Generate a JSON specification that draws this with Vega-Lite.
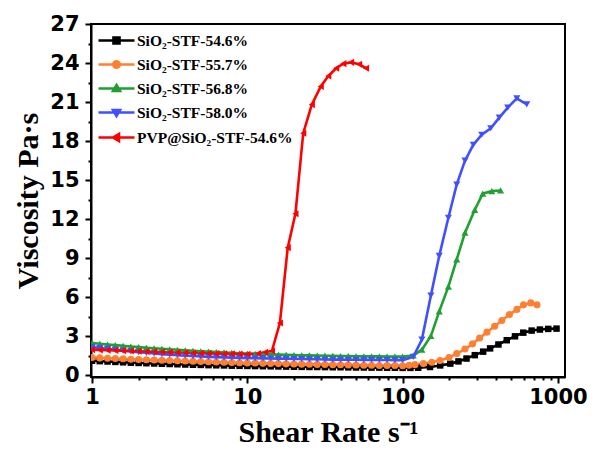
{
"$schema":"https://vega.github.io/schema/vega-lite/v6.json",
"width":474,"height":353,
"autosize":{"type":"none"},
"padding":{"left":91,"top":24,"right":34,"bottom":73},
"background":"white",
"config":{
 "view":{"stroke":"black","strokeWidth":2},
 "axis":{"domainColor":"black","domainWidth":2,"tickColor":"black","tickWidth":2,"labelFont":"DejaVu Sans","labelFontWeight":"bold","labelFontSize":21,"labelColor":"black","titleFont":"Liberation Serif","titleFontWeight":"bold","titleFontSize":30,"titleColor":"black","grid":false,"labelOverlap":false,"labelFlush":false}
},
"data":{"values":[
{"s":"SiO₂-STF-54.6%","x":1,"y":1.10},{"s":"SiO₂-STF-54.6%","x":1.122,"y":1.07},{"s":"SiO₂-STF-54.6%","x":1.259,"y":1.04},{"s":"SiO₂-STF-54.6%","x":1.413,"y":1.01},{"s":"SiO₂-STF-54.6%","x":1.585,"y":0.98},{"s":"SiO₂-STF-54.6%","x":1.778,"y":0.95},{"s":"SiO₂-STF-54.6%","x":1.995,"y":0.93},{"s":"SiO₂-STF-54.6%","x":2.239,"y":0.91},{"s":"SiO₂-STF-54.6%","x":2.512,"y":0.89},{"s":"SiO₂-STF-54.6%","x":2.818,"y":0.87},{"s":"SiO₂-STF-54.6%","x":3.162,"y":0.85},{"s":"SiO₂-STF-54.6%","x":3.548,"y":0.83},{"s":"SiO₂-STF-54.6%","x":3.981,"y":0.81},{"s":"SiO₂-STF-54.6%","x":4.467,"y":0.79},{"s":"SiO₂-STF-54.6%","x":5.012,"y":0.78},{"s":"SiO₂-STF-54.6%","x":5.623,"y":0.76},{"s":"SiO₂-STF-54.6%","x":6.31,"y":0.75},{"s":"SiO₂-STF-54.6%","x":7.079,"y":0.74},{"s":"SiO₂-STF-54.6%","x":7.943,"y":0.72},{"s":"SiO₂-STF-54.6%","x":8.913,"y":0.71},{"s":"SiO₂-STF-54.6%","x":10,"y":0.70},{"s":"SiO₂-STF-54.6%","x":11.22,"y":0.69},{"s":"SiO₂-STF-54.6%","x":12.59,"y":0.68},{"s":"SiO₂-STF-54.6%","x":14.13,"y":0.67},{"s":"SiO₂-STF-54.6%","x":15.85,"y":0.66},{"s":"SiO₂-STF-54.6%","x":17.78,"y":0.65},{"s":"SiO₂-STF-54.6%","x":19.95,"y":0.64},{"s":"SiO₂-STF-54.6%","x":22.39,"y":0.63},{"s":"SiO₂-STF-54.6%","x":25.12,"y":0.62},{"s":"SiO₂-STF-54.6%","x":28.18,"y":0.62},{"s":"SiO₂-STF-54.6%","x":31.62,"y":0.61},{"s":"SiO₂-STF-54.6%","x":35.48,"y":0.60},{"s":"SiO₂-STF-54.6%","x":39.81,"y":0.60},{"s":"SiO₂-STF-54.6%","x":44.67,"y":0.59},{"s":"SiO₂-STF-54.6%","x":50.12,"y":0.58},{"s":"SiO₂-STF-54.6%","x":56.23,"y":0.58},{"s":"SiO₂-STF-54.6%","x":63.1,"y":0.57},{"s":"SiO₂-STF-54.6%","x":70.79,"y":0.57},{"s":"SiO₂-STF-54.6%","x":79.43,"y":0.56},{"s":"SiO₂-STF-54.6%","x":89.13,"y":0.56},{"s":"SiO₂-STF-54.6%","x":100,"y":0.55},{"s":"SiO₂-STF-54.6%","x":112.2,"y":0.55},{"s":"SiO₂-STF-54.6%","x":125.9,"y":0.56},{"s":"SiO₂-STF-54.6%","x":150,"y":0.62},{"s":"SiO₂-STF-54.6%","x":174.5,"y":0.74},{"s":"SiO₂-STF-54.6%","x":202.7,"y":0.88},{"s":"SiO₂-STF-54.6%","x":228.7,"y":1.05},{"s":"SiO₂-STF-54.6%","x":257.8,"y":1.27},{"s":"SiO₂-STF-54.6%","x":291.5,"y":1.53},{"s":"SiO₂-STF-54.6%","x":330,"y":1.8},{"s":"SiO₂-STF-54.6%","x":365.6,"y":2.05},{"s":"SiO₂-STF-54.6%","x":413.6,"y":2.35},{"s":"SiO₂-STF-54.6%","x":468,"y":2.68},{"s":"SiO₂-STF-54.6%","x":529,"y":2.98},{"s":"SiO₂-STF-54.6%","x":598,"y":3.26},{"s":"SiO₂-STF-54.6%","x":677,"y":3.42},{"s":"SiO₂-STF-54.6%","x":765,"y":3.5},{"s":"SiO₂-STF-54.6%","x":866,"y":3.55},{"s":"SiO₂-STF-54.6%","x":979,"y":3.57},
{"s":"SiO₂-STF-55.7%","x":1,"y":1.35},{"s":"SiO₂-STF-55.7%","x":1.122,"y":1.32},{"s":"SiO₂-STF-55.7%","x":1.259,"y":1.29},{"s":"SiO₂-STF-55.7%","x":1.413,"y":1.27},{"s":"SiO₂-STF-55.7%","x":1.585,"y":1.25},{"s":"SiO₂-STF-55.7%","x":1.778,"y":1.22},{"s":"SiO₂-STF-55.7%","x":1.995,"y":1.20},{"s":"SiO₂-STF-55.7%","x":2.239,"y":1.18},{"s":"SiO₂-STF-55.7%","x":2.512,"y":1.16},{"s":"SiO₂-STF-55.7%","x":2.818,"y":1.14},{"s":"SiO₂-STF-55.7%","x":3.162,"y":1.12},{"s":"SiO₂-STF-55.7%","x":3.548,"y":1.10},{"s":"SiO₂-STF-55.7%","x":3.981,"y":1.08},{"s":"SiO₂-STF-55.7%","x":4.467,"y":1.06},{"s":"SiO₂-STF-55.7%","x":5.012,"y":1.04},{"s":"SiO₂-STF-55.7%","x":5.623,"y":1.02},{"s":"SiO₂-STF-55.7%","x":6.31,"y":1.00},{"s":"SiO₂-STF-55.7%","x":7.079,"y":0.99},{"s":"SiO₂-STF-55.7%","x":7.943,"y":0.97},{"s":"SiO₂-STF-55.7%","x":8.913,"y":0.95},{"s":"SiO₂-STF-55.7%","x":10,"y":0.93},{"s":"SiO₂-STF-55.7%","x":11.22,"y":0.92},{"s":"SiO₂-STF-55.7%","x":12.59,"y":0.90},{"s":"SiO₂-STF-55.7%","x":14.13,"y":0.89},{"s":"SiO₂-STF-55.7%","x":15.85,"y":0.88},{"s":"SiO₂-STF-55.7%","x":17.78,"y":0.86},{"s":"SiO₂-STF-55.7%","x":19.95,"y":0.85},{"s":"SiO₂-STF-55.7%","x":22.39,"y":0.84},{"s":"SiO₂-STF-55.7%","x":25.12,"y":0.83},{"s":"SiO₂-STF-55.7%","x":28.18,"y":0.82},{"s":"SiO₂-STF-55.7%","x":31.62,"y":0.81},{"s":"SiO₂-STF-55.7%","x":35.48,"y":0.80},{"s":"SiO₂-STF-55.7%","x":39.81,"y":0.79},{"s":"SiO₂-STF-55.7%","x":44.67,"y":0.78},{"s":"SiO₂-STF-55.7%","x":50.12,"y":0.77},{"s":"SiO₂-STF-55.7%","x":56.23,"y":0.76},{"s":"SiO₂-STF-55.7%","x":63.1,"y":0.75},{"s":"SiO₂-STF-55.7%","x":70.79,"y":0.74},{"s":"SiO₂-STF-55.7%","x":79.43,"y":0.73},{"s":"SiO₂-STF-55.7%","x":89.13,"y":0.73},{"s":"SiO₂-STF-55.7%","x":100,"y":0.72},{"s":"SiO₂-STF-55.7%","x":110,"y":0.76},{"s":"SiO₂-STF-55.7%","x":120,"y":0.8},{"s":"SiO₂-STF-55.7%","x":136,"y":0.88},{"s":"SiO₂-STF-55.7%","x":154,"y":0.98},{"s":"SiO₂-STF-55.7%","x":174,"y":1.12},{"s":"SiO₂-STF-55.7%","x":199,"y":1.35},{"s":"SiO₂-STF-55.7%","x":223,"y":1.65},{"s":"SiO₂-STF-55.7%","x":252,"y":2.0},{"s":"SiO₂-STF-55.7%","x":282,"y":2.4},{"s":"SiO₂-STF-55.7%","x":313,"y":2.85},{"s":"SiO₂-STF-55.7%","x":349,"y":3.3},{"s":"SiO₂-STF-55.7%","x":391,"y":3.75},{"s":"SiO₂-STF-55.7%","x":435,"y":4.2},{"s":"SiO₂-STF-55.7%","x":487,"y":4.65},{"s":"SiO₂-STF-55.7%","x":544,"y":5.05},{"s":"SiO₂-STF-55.7%","x":600,"y":5.4},{"s":"SiO₂-STF-55.7%","x":668,"y":5.55},{"s":"SiO₂-STF-55.7%","x":733,"y":5.4},
{"s":"SiO₂-STF-56.8%","x":1,"y":2.47},{"s":"SiO₂-STF-56.8%","x":1.122,"y":2.41},{"s":"SiO₂-STF-56.8%","x":1.259,"y":2.35},{"s":"SiO₂-STF-56.8%","x":1.413,"y":2.30},{"s":"SiO₂-STF-56.8%","x":1.585,"y":2.25},{"s":"SiO₂-STF-56.8%","x":1.778,"y":2.20},{"s":"SiO₂-STF-56.8%","x":1.995,"y":2.15},{"s":"SiO₂-STF-56.8%","x":2.239,"y":2.10},{"s":"SiO₂-STF-56.8%","x":2.512,"y":2.06},{"s":"SiO₂-STF-56.8%","x":2.818,"y":2.02},{"s":"SiO₂-STF-56.8%","x":3.162,"y":1.98},{"s":"SiO₂-STF-56.8%","x":3.548,"y":1.94},{"s":"SiO₂-STF-56.8%","x":3.981,"y":1.90},{"s":"SiO₂-STF-56.8%","x":4.467,"y":1.87},{"s":"SiO₂-STF-56.8%","x":5.012,"y":1.83},{"s":"SiO₂-STF-56.8%","x":5.623,"y":1.80},{"s":"SiO₂-STF-56.8%","x":6.31,"y":1.77},{"s":"SiO₂-STF-56.8%","x":7.079,"y":1.74},{"s":"SiO₂-STF-56.8%","x":7.943,"y":1.71},{"s":"SiO₂-STF-56.8%","x":8.913,"y":1.68},{"s":"SiO₂-STF-56.8%","x":10,"y":1.65},{"s":"SiO₂-STF-56.8%","x":11.22,"y":1.63},{"s":"SiO₂-STF-56.8%","x":12.59,"y":1.61},{"s":"SiO₂-STF-56.8%","x":14.13,"y":1.59},{"s":"SiO₂-STF-56.8%","x":15.85,"y":1.57},{"s":"SiO₂-STF-56.8%","x":17.78,"y":1.55},{"s":"SiO₂-STF-56.8%","x":19.95,"y":1.54},{"s":"SiO₂-STF-56.8%","x":22.39,"y":1.52},{"s":"SiO₂-STF-56.8%","x":25.12,"y":1.51},{"s":"SiO₂-STF-56.8%","x":28.18,"y":1.50},{"s":"SiO₂-STF-56.8%","x":31.62,"y":1.49},{"s":"SiO₂-STF-56.8%","x":35.48,"y":1.48},{"s":"SiO₂-STF-56.8%","x":39.81,"y":1.47},{"s":"SiO₂-STF-56.8%","x":44.67,"y":1.46},{"s":"SiO₂-STF-56.8%","x":50.12,"y":1.45},{"s":"SiO₂-STF-56.8%","x":56.23,"y":1.45},{"s":"SiO₂-STF-56.8%","x":63.1,"y":1.44},{"s":"SiO₂-STF-56.8%","x":70.79,"y":1.44},{"s":"SiO₂-STF-56.8%","x":79.43,"y":1.43},{"s":"SiO₂-STF-56.8%","x":89.13,"y":1.43},{"s":"SiO₂-STF-56.8%","x":100,"y":1.42},{"s":"SiO₂-STF-56.8%","x":117,"y":1.5},{"s":"SiO₂-STF-56.8%","x":133,"y":1.95},{"s":"SiO₂-STF-56.8%","x":152,"y":3.0},{"s":"SiO₂-STF-56.8%","x":172,"y":4.9},{"s":"SiO₂-STF-56.8%","x":197,"y":6.8},{"s":"SiO₂-STF-56.8%","x":223,"y":8.9},{"s":"SiO₂-STF-56.8%","x":252,"y":10.95},{"s":"SiO₂-STF-56.8%","x":291,"y":12.7},{"s":"SiO₂-STF-56.8%","x":328,"y":13.95},{"s":"SiO₂-STF-56.8%","x":375,"y":14.15},{"s":"SiO₂-STF-56.8%","x":427,"y":14.2},
{"s":"SiO₂-STF-58.0%","x":1,"y":2.15},{"s":"SiO₂-STF-58.0%","x":1.122,"y":2.08},{"s":"SiO₂-STF-58.0%","x":1.259,"y":2.01},{"s":"SiO₂-STF-58.0%","x":1.413,"y":1.94},{"s":"SiO₂-STF-58.0%","x":1.585,"y":1.88},{"s":"SiO₂-STF-58.0%","x":1.778,"y":1.82},{"s":"SiO₂-STF-58.0%","x":1.995,"y":1.76},{"s":"SiO₂-STF-58.0%","x":2.239,"y":1.71},{"s":"SiO₂-STF-58.0%","x":2.512,"y":1.66},{"s":"SiO₂-STF-58.0%","x":2.818,"y":1.61},{"s":"SiO₂-STF-58.0%","x":3.162,"y":1.57},{"s":"SiO₂-STF-58.0%","x":3.548,"y":1.53},{"s":"SiO₂-STF-58.0%","x":3.981,"y":1.49},{"s":"SiO₂-STF-58.0%","x":4.467,"y":1.46},{"s":"SiO₂-STF-58.0%","x":5.012,"y":1.43},{"s":"SiO₂-STF-58.0%","x":5.623,"y":1.40},{"s":"SiO₂-STF-58.0%","x":6.31,"y":1.38},{"s":"SiO₂-STF-58.0%","x":7.079,"y":1.36},{"s":"SiO₂-STF-58.0%","x":7.943,"y":1.34},{"s":"SiO₂-STF-58.0%","x":8.913,"y":1.32},{"s":"SiO₂-STF-58.0%","x":10,"y":1.30},{"s":"SiO₂-STF-58.0%","x":11.22,"y":1.29},{"s":"SiO₂-STF-58.0%","x":12.59,"y":1.28},{"s":"SiO₂-STF-58.0%","x":14.13,"y":1.27},{"s":"SiO₂-STF-58.0%","x":15.85,"y":1.26},{"s":"SiO₂-STF-58.0%","x":17.78,"y":1.25},{"s":"SiO₂-STF-58.0%","x":19.95,"y":1.24},{"s":"SiO₂-STF-58.0%","x":22.39,"y":1.23},{"s":"SiO₂-STF-58.0%","x":25.12,"y":1.22},{"s":"SiO₂-STF-58.0%","x":28.18,"y":1.21},{"s":"SiO₂-STF-58.0%","x":31.62,"y":1.20},{"s":"SiO₂-STF-58.0%","x":35.48,"y":1.19},{"s":"SiO₂-STF-58.0%","x":39.81,"y":1.19},{"s":"SiO₂-STF-58.0%","x":44.67,"y":1.18},{"s":"SiO₂-STF-58.0%","x":50.12,"y":1.18},{"s":"SiO₂-STF-58.0%","x":56.23,"y":1.17},{"s":"SiO₂-STF-58.0%","x":63.1,"y":1.17},{"s":"SiO₂-STF-58.0%","x":70.79,"y":1.16},{"s":"SiO₂-STF-58.0%","x":79.43,"y":1.16},{"s":"SiO₂-STF-58.0%","x":89.13,"y":1.15},{"s":"SiO₂-STF-58.0%","x":100,"y":1.15},{"s":"SiO₂-STF-58.0%","x":117,"y":1.4},{"s":"SiO₂-STF-58.0%","x":133,"y":2.73},{"s":"SiO₂-STF-58.0%","x":152,"y":6.12},{"s":"SiO₂-STF-58.0%","x":172,"y":9.17},{"s":"SiO₂-STF-58.0%","x":197,"y":12.1},{"s":"SiO₂-STF-58.0%","x":223,"y":14.66},{"s":"SiO₂-STF-58.0%","x":252,"y":16.49},{"s":"SiO₂-STF-58.0%","x":285,"y":17.71},{"s":"SiO₂-STF-58.0%","x":323,"y":18.48},{"s":"SiO₂-STF-58.0%","x":369,"y":18.98},{"s":"SiO₂-STF-58.0%","x":419,"y":19.8},{"s":"SiO₂-STF-58.0%","x":475,"y":20.57},{"s":"SiO₂-STF-58.0%","x":543,"y":21.28},{"s":"SiO₂-STF-58.0%","x":630,"y":20.82},
{"s":"PVP@SiO₂-STF-54.6%","x":1,"y":1.95},{"s":"PVP@SiO₂-STF-54.6%","x":1.122,"y":1.93},{"s":"PVP@SiO₂-STF-54.6%","x":1.259,"y":1.91},{"s":"PVP@SiO₂-STF-54.6%","x":1.413,"y":1.89},{"s":"PVP@SiO₂-STF-54.6%","x":1.585,"y":1.87},{"s":"PVP@SiO₂-STF-54.6%","x":1.778,"y":1.85},{"s":"PVP@SiO₂-STF-54.6%","x":1.995,"y":1.83},{"s":"PVP@SiO₂-STF-54.6%","x":2.239,"y":1.81},{"s":"PVP@SiO₂-STF-54.6%","x":2.512,"y":1.79},{"s":"PVP@SiO₂-STF-54.6%","x":2.818,"y":1.77},{"s":"PVP@SiO₂-STF-54.6%","x":3.162,"y":1.75},{"s":"PVP@SiO₂-STF-54.6%","x":3.548,"y":1.73},{"s":"PVP@SiO₂-STF-54.6%","x":3.981,"y":1.71},{"s":"PVP@SiO₂-STF-54.6%","x":4.467,"y":1.70},{"s":"PVP@SiO₂-STF-54.6%","x":5.012,"y":1.68},{"s":"PVP@SiO₂-STF-54.6%","x":5.623,"y":1.67},{"s":"PVP@SiO₂-STF-54.6%","x":6.31,"y":1.65},{"s":"PVP@SiO₂-STF-54.6%","x":7.079,"y":1.64},{"s":"PVP@SiO₂-STF-54.6%","x":7.943,"y":1.63},{"s":"PVP@SiO₂-STF-54.6%","x":8.913,"y":1.62},{"s":"PVP@SiO₂-STF-54.6%","x":10,"y":1.60},{"s":"PVP@SiO₂-STF-54.6%","x":11.7,"y":1.65},{"s":"PVP@SiO₂-STF-54.6%","x":13.0,"y":1.75},{"s":"PVP@SiO₂-STF-54.6%","x":14.4,"y":1.85},{"s":"PVP@SiO₂-STF-54.6%","x":16.2,"y":4.0},{"s":"PVP@SiO₂-STF-54.6%","x":18.2,"y":9.8},{"s":"PVP@SiO₂-STF-54.6%","x":20.4,"y":12.4},{"s":"PVP@SiO₂-STF-54.6%","x":22.9,"y":18.6},{"s":"PVP@SiO₂-STF-54.6%","x":26.0,"y":20.8},{"s":"PVP@SiO₂-STF-54.6%","x":29.7,"y":22.2},{"s":"PVP@SiO₂-STF-54.6%","x":33.2,"y":23.0},{"s":"PVP@SiO₂-STF-54.6%","x":37.3,"y":23.6},{"s":"PVP@SiO₂-STF-54.6%","x":41.5,"y":23.95},{"s":"PVP@SiO₂-STF-54.6%","x":46.5,"y":24.05},{"s":"PVP@SiO₂-STF-54.6%","x":52.4,"y":23.9},{"s":"PVP@SiO₂-STF-54.6%","x":58.1,"y":23.6}
]},
"encoding":{
 "x":{"field":"x","type":"quantitative","scale":{"type":"log","domain":[0.985,1110],"nice":false},
  "axis":{"title":"Shear Rate s⁻¹","values":[1,2,3,4,5,6,7,8,9,10,20,30,40,50,60,70,80,90,100,200,300,400,500,600,700,800,900,1000],
   "labelExpr":"(datum.value==1||datum.value==10||datum.value==100||datum.value==1000) ? format(datum.value,'d') : ''",
   "tickSize":{"condition":{"test":"datum.value==1||datum.value==10||datum.value==100||datum.value==1000","value":6},"value":3},
   "labelPadding":3,"titlePadding":10}},
 "y":{"field":"y","type":"quantitative","scale":{"domain":[-0.15,27],"nice":false,"zero":false},
  "axis":{"title":"Viscosity Pa·s","values":[0,1.5,3,4.5,6,7.5,9,10.5,12,13.5,15,16.5,18,19.5,21,22.5,24,25.5,27],
   "labelExpr":"datum.value % 3 == 0 ? format(datum.value,'d') : ''",
   "tickSize":{"condition":{"test":"datum.value % 3 == 0","value":6},"value":3},
   "labelPadding":6,"titlePadding":6}},
 "color":{"field":"s","type":"nominal",
  "scale":{"domain":["SiO₂-STF-54.6%","SiO₂-STF-55.7%","SiO₂-STF-56.8%","SiO₂-STF-58.0%","PVP@SiO₂-STF-54.6%"],"range":["#000000","#FF8033","#1FA030","#4050FF","#FF0000"]},
  "legend":{"orient":"none","legendX":15,"legendY":6,"padding":0,"title":null,"labelFont":"Liberation Serif","labelFontWeight":"bold","labelFontSize":15.5,"labelColor":"black","symbolSize":324,"symbolStrokeWidth":2.5,"symbolType":"square","labelOffset":10,"rowPadding":5,"symbolLimit":0,
   "encode":{"symbols":{"update":{
    "shape":{"signal":"['M-2,0H2M-0.34,-0.34H0.34V0.34H-0.34Z','M-2,0H2M-0.36,0A0.36,0.36 0 1,0 0.36,0A0.36,0.36 0 1,0 -0.36,0Z','M-2,0H2M0,-0.4L0.4,0.28L-0.4,0.28Z','M-2,0H2M0,0.4L0.4,-0.28L-0.4,-0.28Z','M-2,0H2M-0.4,0L0.28,-0.4L0.28,0.4Z'][datum.index]"},
    "fill":{"scale":"color","field":"value"},
    "stroke":{"scale":"color","field":"value"},
    "strokeWidth":{"value":2.5},
    "opacity":{"value":1}}}}}}
},
"layer":[
 {"mark":{"type":"line","strokeWidth":2.6,"clip":true}},
 {"transform":[{"filter":"datum.s == 'SiO₂-STF-54.6%'"}],"mark":{"type":"point","shape":"square","filled":true,"size":42,"opacity":1,"clip":true}},
 {"transform":[{"filter":"datum.s == 'SiO₂-STF-55.7%'"}],"mark":{"type":"point","shape":"circle","filled":true,"size":50,"opacity":1,"clip":true}},
 {"transform":[{"filter":"datum.s == 'SiO₂-STF-56.8%'"}],"mark":{"type":"point","shape":"triangle-up","filled":true,"size":50,"opacity":1,"clip":true}},
 {"transform":[{"filter":"datum.s == 'SiO₂-STF-58.0%'"}],"mark":{"type":"point","shape":"triangle-down","filled":true,"size":50,"opacity":1,"clip":true}},
 {"transform":[{"filter":"datum.s == 'PVP@SiO₂-STF-54.6%'"}],"mark":{"type":"point","shape":"triangle-left","filled":true,"size":50,"opacity":1,"clip":true}}
]
}
